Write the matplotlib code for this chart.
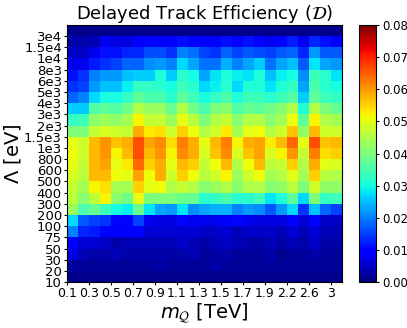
import numpy as np
import matplotlib
matplotlib.use("Agg")
import matplotlib.pyplot as plt

# Axis categories
masses = [0.1, 0.2, 0.3, 0.4, 0.5, 0.6, 0.7, 0.8, 0.9, 1.0, 1.1, 1.2, 1.3,
          1.4, 1.5, 1.6, 1.7, 1.8, 1.9, 2.0, 2.2, 2.4, 2.6, 2.8, 3.0]
mass_tick_labels = ["0.1", "0.3", "0.5", "0.7", "0.9", "1.1", "1.3", "1.5",
                    "1.7", "1.9", "2.2", "2.6", "3"]
lambda_labels = ["10", "20", "30", "50", "75", "100", "200", "300", "400",
                 "500", "600", "800", "1e3", "1.5e3", "2e3", "3e3", "4e3",
                 "5e3", "6e3", "8e3", "1e4", "1.5e4", "3e4"]

# Efficiency, one row per Lambda bin, bottom (10) to top
eff = [
    [.001, .001, .001, .001, .001, .001, .001, .001, .001, .001, .001, .001, .001, .001, .001, .001, .001, .001, .001, .001, .001, .001, .001, .001, .001],
    [.002, .002, .002, .002, .002, .002, .002, .002, .003, .002, .002, .002, .002, .003, .002, .002, .002, .002, .002, .002, .002, .002, .002, .002, .002],
    [.007, .004, .003, .003, .004, .003, .003, .003, .003, .003, .003, .004, .002, .003, .003, .002, .002, .002, .003, .001, .002, .002, .003, .002, .002],
    [.009, .006, .006, .005, .003, .004, .004, .004, .004, .004, .005, .004, .003, .004, .005, .004, .003, .003, .004, .003, .004, .003, .005, .003, .003],
    [.020, .013, .012, .009, .009, .009, .009, .006, .006, .006, .006, .006, .005, .005, .006, .004, .005, .005, .005, .004, .006, .004, .006, .004, .004],
    [.027, .017, .015, .014, .010, .010, .015, .008, .007, .007, .010, .008, .008, .008, .009, .010, .008, .007, .007, .007, .009, .006, .009, .005, .005],
    [.043, .035, .038, .034, .030, .029, .038, .028, .023, .022, .028, .021, .023, .024, .024, .020, .022, .021, .017, .022, .027, .014, .025, .018, .015],
    [.046, .041, .046, .052, .041, .039, .050, .040, .040, .040, .038, .038, .032, .033, .035, .032, .032, .034, .028, .031, .037, .027, .040, .033, .034],
    [.047, .044, .052, .054, .044, .044, .055, .050, .051, .045, .047, .045, .041, .043, .045, .041, .045, .045, .041, .042, .046, .040, .048, .042, .042],
    [.049, .046, .057, .057, .051, .050, .059, .051, .058, .048, .055, .051, .046, .048, .052, .043, .048, .051, .044, .045, .050, .044, .055, .046, .045],
    [.050, .047, .057, .059, .050, .053, .064, .055, .058, .050, .057, .055, .047, .051, .057, .045, .051, .057, .046, .047, .055, .045, .058, .050, .049],
    [.051, .048, .057, .060, .052, .057, .066, .057, .060, .052, .061, .058, .049, .056, .061, .049, .056, .059, .049, .052, .060, .047, .062, .054, .055],
    [.050, .048, .057, .060, .056, .058, .066, .059, .061, .054, .062, .058, .050, .057, .062, .052, .058, .059, .053, .057, .064, .050, .066, .056, .057],
    [.040, .040, .047, .049, .048, .047, .058, .053, .054, .048, .055, .051, .045, .048, .053, .044, .050, .051, .045, .048, .056, .042, .057, .048, .048],
    [.033, .034, .042, .043, .042, .044, .052, .047, .047, .043, .050, .046, .040, .045, .047, .041, .045, .045, .041, .044, .051, .037, .052, .045, .044],
    [.026, .026, .036, .037, .036, .039, .045, .043, .043, .038, .045, .039, .035, .040, .041, .036, .038, .037, .039, .041, .045, .031, .045, .040, .038],
    [.018, .020, .027, .030, .030, .033, .037, .035, .035, .032, .037, .034, .030, .033, .035, .031, .034, .034, .032, .034, .036, .026, .037, .034, .033],
    [.014, .015, .022, .025, .025, .029, .033, .033, .032, .030, .034, .032, .027, .029, .032, .027, .031, .031, .028, .031, .033, .023, .035, .032, .030],
    [.011, .014, .020, .022, .022, .025, .026, .026, .031, .026, .032, .030, .023, .028, .031, .029, .028, .031, .025, .029, .030, .021, .034, .032, .028],
    [.008, .008, .012, .014, .015, .018, .018, .021, .022, .020, .027, .023, .019, .019, .024, .020, .023, .026, .019, .023, .025, .017, .028, .023, .022],
    [.005, .005, .008, .011, .011, .013, .013, .016, .016, .014, .020, .019, .015, .014, .018, .015, .017, .016, .015, .017, .018, .013, .022, .017, .017],
    [.003, .003, .004, .008, .007, .007, .009, .009, .009, .009, .011, .010, .009, .009, .011, .010, .011, .010, .008, .010, .012, .008, .013, .011, .009],
    [.001, .001, .001, .001, .001, .001, .001, .001, .001, .001, .001, .001, .001, .001, .001, .001, .001, .001, .001, .001, .001, .001, .001, .001, .001],
]

Z = np.array(eff)

fig = plt.figure(figsize=(4.07, 3.28), dpi=100)
ax = fig.add_axes([0.164, 0.140, 0.676, 0.784])
cax = fig.add_axes([0.882, 0.140, 0.042, 0.784])

mesh = ax.pcolormesh(Z, cmap="jet", vmin=0, vmax=0.08)

ax.set_xticks(np.arange(0, len(masses), 2))
ax.set_xticklabels(mass_tick_labels, fontsize=9)
ax.set_yticks(np.arange(len(lambda_labels)))
ax.set_yticklabels(lambda_labels, fontsize=9.5)
ax.tick_params(length=2.5, pad=1)
ax.set_xlim(0, len(masses))
ax.set_ylim(0, len(lambda_labels))

ax.set_title(r"Delayed Track Efficiency ($\mathcal{D}$)", fontsize=13, pad=4)
ax.set_xlabel(r"$m_{\mathcal{Q}}$ [TeV]", fontsize=14, labelpad=1)
ax.set_ylabel(r"$\Lambda$ [eV]", fontsize=14, labelpad=1)

cb = fig.colorbar(mesh, cax=cax)
cb.set_ticks(np.arange(0, 0.081, 0.01))
cb.ax.tick_params(labelsize=8.5, length=2.5, pad=2)
cb.ax.yaxis.set_major_formatter(matplotlib.ticker.FormatStrFormatter("%.2f"))

fig.savefig("out.png", dpi=100)
